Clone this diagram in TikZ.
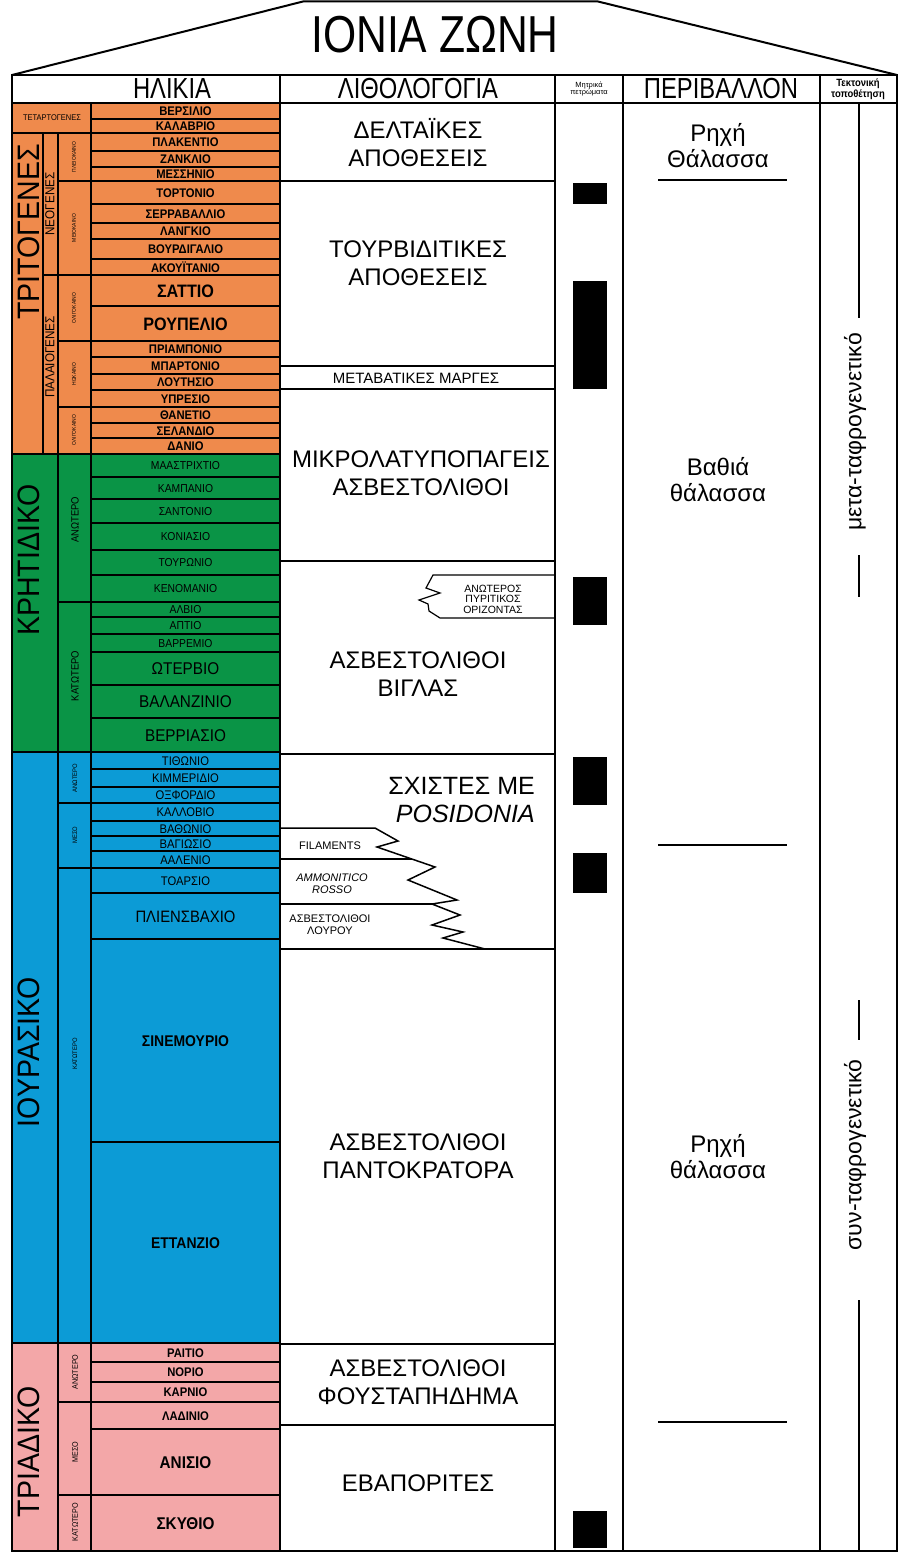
\documentclass[tikz,border=0pt]{standalone}
\usepackage{fontspec}
\setmainfont{Liberation Sans}
\newfontfamily\cond[FakeStretch=0.82]{Liberation Sans}
\newfontfamily\semi[FakeStretch=0.9]{Liberation Sans}
\newfontfamily\erafont[FakeStretch=0.92]{Liberation Sans}
\definecolor{tert}{RGB}{239,138,76}
\definecolor{cret}{RGB}{10,148,70}
\definecolor{jur}{RGB}{12,155,214}
\definecolor{tri}{RGB}{243,167,168}
\newcommand\fs[1]{\fontsize{#1}{#1}\selectfont}
\tikzset{
  frm/.style={line width=2.6pt, line cap=rect},
  ln/.style={line width=1.6pt},
  thin/.style={line width=1.2pt},
  sb/.style={font=\semi\bfseries\fs{12.5}, inner sep=0pt},
  sbig/.style={font=\semi\bfseries\fs{18}, inner sep=0pt},
  sr/.style={font=\semi\fs{11.5}, inner sep=0pt},
  srbig/.style={font=\semi\fs{17}, inner sep=0pt},
  sj/.style={font=\semi\fs{12.5}, inner sep=0pt},
  sjbig/.style={font=\semi\fs{16.5}, inner sep=0pt},
  sjb/.style={font=\semi\bfseries\fs{15.5}, inner sep=0pt},
  tbig/.style={font=\semi\bfseries\fs{17}, inner sep=0pt},
  era/.style={font=\erafont\fs{31}, rotate=90, inner sep=0pt},
  sub/.style={font=\semi\fs{13}, rotate=90, inner sep=0pt},
  epo/.style={font=\semi\fs{#1}, rotate=90, inner sep=0pt},
  epo/.default=9,
  lith/.style={font=\fs{24}, align=center, inner sep=0pt},
  env/.style={font=\fs{24}, align=center, inner sep=0pt},
  hdr/.style={font=\cond\fs{29}, inner sep=0pt},
  small/.style={font=\fs{11}, align=center, inner sep=0pt},
  blk/.style={fill=black},
  tect/.style={font=\fs{23}, rotate=90, inner sep=0pt},
}
\begin{document}
\begin{tikzpicture}[x=1pt,y=-1pt]
\useasboundingbox (0,0) rectangle (901,1554);
\fill[white] (0,0) rectangle (901,1554);
% roof
\draw[line width=2pt] (12,75) -- (303,1.5) -- (598,1.5) -- (897,75);
\node[font=\cond\fs{52}, inner sep=0pt] (title) at (435,35) {ΙΟΝΙΑ ΖΩΝΗ};
% colour fills
\fill[tert] (12,103) rectangle (280,454);
\fill[cret] (12,454) rectangle (280,752);
\fill[jur] (12,752) rectangle (280,1343);
\fill[tri] (12,1343) rectangle (280,1551);
% stages
\foreach \t/\b/\n/\s [count=\i] in {
 103/119/ΒΕΡΣΙΛΙΟ/sb, 119/133/ΚΑΛΑΒΡΙΟ/sb, 133/151/ΠΛΑΚΕΝΤΙΟ/sb, 151/167/ΖΑΝΚΛΙΟ/sb,
 167/181/ΜΕΣΣΗΝΙΟ/sb, 181/204/ΤΟΡΤΟΝΙΟ/sb, 204/223/ΣΕΡΡΑΒΑΛΛΙΟ/sb, 223/239/ΛΑΝΓΚΙΟ/sb,
 239/259/ΒΟΥΡΔΙΓΑΛΙΟ/sb, 259/275/ΑΚΟΥΪΤΑΝΙΟ/sb, 275/306/ΣΑΤΤΙΟ/sbig, 306/341/ΡΟΥΠΕΛΙΟ/sbig,
 341/357/ΠΡΙΑΜΠΟΝΙΟ/sb, 357/374/ΜΠΑΡΤΟΝΙΟ/sb, 374/390/ΛΟΥΤΗΣΙΟ/sb, 390/407/ΥΠΡΕΣΙΟ/sb,
 407/423/ΘΑΝΕΤΙΟ/sb, 423/438/ΣΕΛΑΝΔΙΟ/sb, 438/454/ΔΑΝΙΟ/sb,
 454/477/ΜΑΑΣΤΡΙΧΤΙΟ/sr, 477/499/ΚΑΜΠΑΝΙΟ/sr, 499/523/ΣΑΝΤΟΝΙΟ/sr, 523/550/ΚΟΝΙΑΣΙΟ/sr,
 550/575/ΤΟΥΡΩΝΙΟ/sr, 575/602/ΚΕΝΟΜΑΝΙΟ/sr, 602/617/ΑΛΒΙΟ/sr, 617/634/ΑΠΤΙΟ/sr,
 634/652/ΒΑΡΡΕΜΙΟ/sr, 652/685/ΩΤΕΡΒΙΟ/srbig, 685/718/ΒΑΛΑΝΖΙΝΙΟ/srbig, 718/752/ΒΕΡΡΙΑΣΙΟ/srbig,
 752/769/ΤΙΘΩΝΙΟ/sj, 769/787/ΚΙΜΜΕΡΙΔΙΟ/sj, 787/803/ΟΞΦΟΡΔΙΟ/sj, 803/821/ΚΑΛΛΟΒΙΟ/sj,
 821/836/ΒΑΘΩΝΙΟ/sj, 836/851/ΒΑΓΙΩΣΙΟ/sj, 851/868/ΑΑΛΕΝΙΟ/sj, 868/893/ΤΟΑΡΣΙΟ/sj,
 893/939/ΠΛΙΕΝΣΒΑΧΙΟ/sjbig, 939/1142/ΣΙΝΕΜΟΥΡΙΟ/sjb, 1142/1343/ΕΤΤΑΝΖΙΟ/sjb,
 1343/1362/ΡΑΙΤΙΟ/sb, 1362/1382/ΝΟΡΙΟ/sb, 1382/1402/ΚΑΡΝΙΟ/sb, 1402/1429/ΛΑΔΙΝΙΟ/sb,
 1429/1495/ΑΝΙΣΙΟ/tbig, 1495/1551/ΣΚΥΘΙΟ/tbig}
{
  \draw[ln] (91,\t) rectangle (280,\b);
  \node[\s] (s\i) at (185.5,{(\t+\b)/2+0.5}) {\n};
}
% epoch column boxes
\foreach \t/\b in {133/181,181/275,275/341,341/407,407/454,454/602,602/752,752/803,803/868,868/1343,1343/1402,1402/1495,1495/1551}
  \draw[ln] (58,\t) rectangle (91,\b);
\draw[ln] (43,133) rectangle (58,275);
\draw[ln] (43,275) rectangle (58,454);
\draw[ln] (12,103) rectangle (91,133);
\foreach \t/\b in {133/454,454/752,752/1343,1343/1551}
  \draw[frm] (12,\t) rectangle (58,\b);
% epoch labels
\node[epo=5.5] (e1) at (74,157) {ΠΛΕΙΟΚΑΙΝΟ};
\node[epo=5.5] (e2) at (74,228) {ΜΕΙΟΚΑΙΝΟ};
\node[epo=5.5] (e3) at (74,308) {ΟΛΙΓΟΚΑΙΝΟ};
\node[epo=5.5] (e4) at (74,374) {ΗΩΚΑΙΝΟ};
\node[epo=5.5] (e5) at (74,430) {ΟΛΙΓΟΚΑΙΝΟ};
\node[epo=10.5] (e6) at (75,520) {ΑΝΩΤΕΡΟ};
\node[epo=10.5] (e7) at (75,676) {ΚΑΤΩΤΕΡΟ};
\node[epo=6.5] (e8) at (75,778) {ΑΝΩΤΕΡΟ};
\node[epo=6.5] (e9) at (75,835) {ΜΕΣΟ};
\node[epo=6.5] (e10) at (75,1054) {ΚΑΤΩΤΕΡΟ};
\node[epo=8] (e11) at (75,1372) {ΑΝΩΤΕΡΟ};
\node[epo=8] (e12) at (75,1452) {ΜΕΣΟ};
\node[epo=8] (e13) at (75,1522) {ΚΑΤΩΤΕΡΟ};
% era labels
\node[font=\semi\fs{8.3}, inner sep=0pt] (q) at (52,118) {ΤΕΤΑΡΤΟΓΕΝΕΣ};
\node[era] (p1) at (29,232) {ΤΡΙΤΟΓΕΝΕΣ};
\node[sub] (p1a) at (50,204) {ΝΕΟΓΕΝΕΣ};
\node[sub] (p1b) at (50,357) {ΠΑΛΑΙΟΓΕΝΕΣ};
\node[era] (p2) at (29,560) {ΚΡΗΤΙΔΙΚΟ};
\node[era] (p3) at (29,1052) {ΙΟΥΡΑΣΙΚΟ};
\node[era] (p4) at (29,1452) {ΤΡΙΑΔΙΚΟ};
% lithology boundaries
\foreach \y in {181,366,389,561,754,949,1344,1425}
  \draw[frm] (280,\y) -- (555,\y);
\node[lith] (l1) at (418,143) {ΔΕΛΤΑΪΚΕΣ\\[4pt]ΑΠΟΘΕΣΕΙΣ};
\node[lith] (l2) at (418,263) {ΤΟΥΡΒΙΔΙΤΙΚΕΣ\\[4pt]ΑΠΟΘΕΣΕΙΣ};
\node[font=\fs{15}, inner sep=0pt] (l3) at (416,378) {ΜΕΤΑΒΑΤΙΚΕΣ ΜΑΡΓΕΣ};
\node[lith] (l4) at (421,473) {ΜΙΚΡΟΛΑΤΥΠΟΠΑΓΕΙΣ\\[4pt]ΑΣΒΕΣΤΟΛΙΘΟΙ};
\node[lith] (l5) at (418,674) {ΑΣΒΕΣΤΟΛΙΘΟΙ\\[4pt]ΒΙΓΛΑΣ};
\node[font=\fs{25}, align=right, inner sep=0pt, anchor=east] (l6) at (535,800) {ΣΧΙΣΤΕΣ ΜΕ\\[3pt]\itshape POSIDONIA};
\node[lith] (l7) at (418,1156) {ΑΣΒΕΣΤΟΛΙΘΟΙ\\[4pt]ΠΑΝΤΟΚΡΑΤΟΡΑ};
\node[lith] (l8) at (418,1382) {ΑΣΒΕΣΤΟΛΙΘΟΙ\\[4pt]ΦΟΥΣΤΑΠΗΔΗΜΑ};
\node[lith] (l9) at (418,1483) {ΕΒΑΠΟΡΙΤΕΣ};
% pyritic horizon
\draw[thin, fill=white] (555,575) -- (433,575) -- (426,588) -- (440,593) -- (419,600) -- (428,604) -- (429,611) -- (440,618) -- (555,618);
\node[small, font=\fs{10.5}] (pyr) at (493,599) {ΑΝΩΤΕΡΟΣ\\ΠΥΡΙΤΙΚΟΣ\\ΟΡΙΖΟΝΤΑΣ};
% filaments etc.
\draw[line width=1.5pt] (280,828) -- (375,828) -- (398,841) -- (377,847) -- (435,867) -- (408,880) -- (457,900) -- (432,904) -- (460,915) -- (432,925) -- (463,932) -- (443,938) -- (485,949);
\draw[line width=1.5pt] (280,859) -- (412,859);
\draw[line width=1.5pt] (280,904) -- (432,904);
\node[font=\fs{11}, inner sep=0pt] (fil) at (330,846) {FILAMENTS};
\node[font=\itshape\fs{11}, align=center, inner sep=0pt] (amm) at (332,884) {AMMONITICO\\[1pt]ROSSO};
\node[font=\fs{11}, align=center, inner sep=0pt] (lou) at (330,925) {ΑΣΒΕΣΤΟΛΙΘΟΙ\\[1pt]ΛΟΥΡΟΥ};
% source rock boxes
\fill[blk] (573,183) rectangle (607,204);
\fill[blk] (573,281) rectangle (607,389);
\fill[blk] (573,577) rectangle (607,625);
\fill[blk] (573,757) rectangle (607,805);
\fill[blk] (573,853) rectangle (607,893);
\fill[blk] (573,1511) rectangle (607,1548);
% environment
\node[env] (v1) at (718,146) {Ρηχή\\[2pt]Θάλασσα};
\draw[ln] (658,180) -- (787,180);
\node[env] (v2) at (718,480) {Βαθιά\\[2pt]θάλασσα};
\draw[ln] (658,845) -- (787,845);
\node[env] (v3) at (718,1157) {Ρηχή\\[2pt]θάλασσα};
\draw[ln] (658,1422) -- (787,1422);
% tectonic
\node[tect] (t1) at (855,432) {μετα-ταφρογενετικό};
\node[tect] (t2) at (855,1155) {συν-ταφρογενετικό};
\coordinate (ta) at (859,103);
\coordinate (tb) at (859,1551);
\draw[thin] (ta) -- (859,318);
\draw[thin] (859,555) -- (859,597);
\draw[thin] (859,1000) -- (859,1040);
\draw[thin] (859,1300) -- (tb);
% frame and columns
\draw[frm] (12,75) rectangle (897,1551);
\draw[frm] (12,103) -- (897,103);
\foreach \x in {280,555,623,820}
  \draw[frm] (\x,75) -- (\x,1551);
% headers
\node[hdr] (h1) at (172,89) {ΗΛΙΚΙΑ};
\node[hdr] (h2) at (418,89) {ΛΙΘΟΛΟΓΟΓΙΑ};
\node[font=\fs{7.5}, align=center, inner sep=0pt] (h3) at (589,89) {Μητρικά\\πετρώματα};
\node[hdr] (h4) at (721,89) {ΠΕΡΙΒΑΛΛΟΝ};
\node[font=\semi\bfseries\fs{10.5}, align=center, inner sep=0pt] (h5) at (858,89) {Τεκτονική\\τοποθέτηση};
\end{tikzpicture}
\end{document}
